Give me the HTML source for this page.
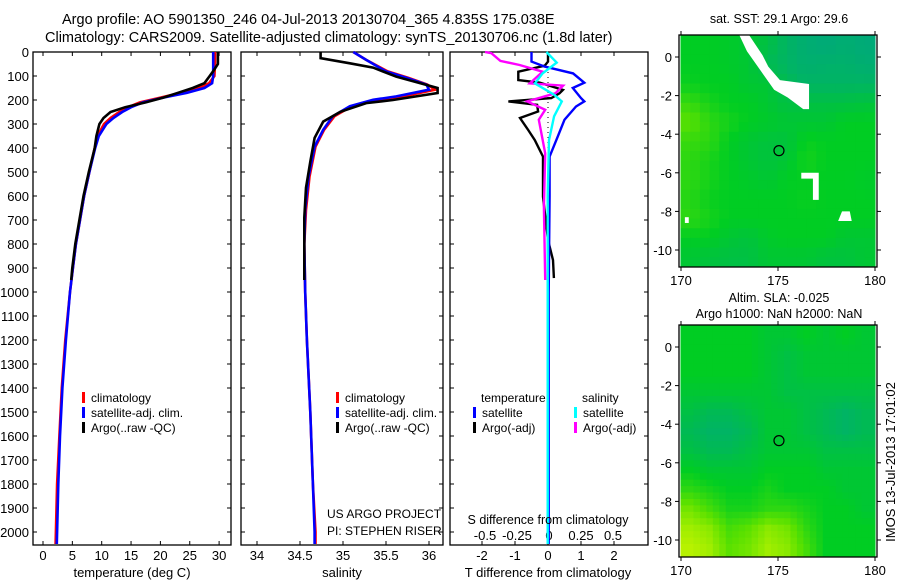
<!DOCTYPE html>
<html><head><meta charset="utf-8">
<style>
html,body{margin:0;padding:0;background:#fff;}
svg{display:block;font-family:"Liberation Sans",sans-serif;}
text{fill:#000;}
</style></head>
<body>
<svg id="fig" width="900" height="580" viewBox="0 0 900 580" xmlns="http://www.w3.org/2000/svg">
<text x="62" y="24" font-size="14.5">Argo profile: AO 5901350_246 04-Jul-2013 20130704_365 4.835S 175.038E</text>
<text x="45" y="42" font-size="14.5">Climatology: CARS2009. Satellite-adjusted climatology: synTS_20130706.nc (1.8d later)</text>
<g id="g"></g>
</svg>
<script>
// ---------- data ----------
const depthTicks = [0,100,200,300,400,500,600,700,800,900,1000,1100,1200,1300,1400,1500,1600,1700,1800,1900,2000];
const tempTicks = [0,5,10,15,20,25,30];
const salTicks = [34,34.5,35,35.5,36];
const salTickLabels = ["34","34.5","35","35.5","36"];
const tdiffTicks = [-2,-1,0,1,2];
const sdiffTicks = [-0.5,-0.25,0,0.25,0.5];
const sdiffTickLabels = ["-0.5","-0.25","0","0.25","0.5"];

const climTDepth = [0,50,100,130,150,170,190,210,230,250,275,300,350,400,500,600,700,800,900,1000,1200,1400,1600,1800,2000,2050];
const satTemp = [29.0,29.0,29.0,28.8,27.5,24.5,20.5,17,15,13.5,12.0,10.8,9.5,8.9,7.9,7.0,6.3,5.6,5.1,4.6,3.9,3.3,2.9,2.6,2.4,2.35];
const climTemp = [29.3,29.3,29.2,28.3,26.5,23.5,20,16.5,14.5,13,11.5,10.4,9.3,8.8,7.9,7.0,6.3,5.6,5.1,4.6,3.8,3.2,2.8,2.4,2.2,2.15];
const argoTDepth = [0,50,80,100,130,150,170,190,210,230,250,275,300,350,400,500,600,700,800,900,950];
const argoTemp = [29.8,29.8,29.0,28.4,27.5,25.5,23,20.5,17.5,14,11.5,10.3,9.6,9.1,8.8,7.8,6.9,6.2,5.5,5.0,4.8];

const climSDepth = [0,33,81,108,136,157,185,199,226,268,324,394,519,657,800,1000,1200,1500,1800,2000,2050];
const satSal = [35.12,35.27,35.5,35.74,35.97,36.0,35.62,35.35,35.08,34.88,34.77,34.67,34.6,34.56,34.55,34.56,34.58,34.62,34.65,34.67,34.67];
const climSal = [35.12,35.27,35.52,35.76,35.98,36.07,35.7,35.4,35.1,34.9,34.78,34.68,34.61,34.57,34.55,34.56,34.58,34.62,34.65,34.68,34.68];
const argoSDepth = [0,26,47,65,103,130,150,171,200,213,249,290,358,457,566,690,800,950];
const argoSal = [34.74,34.74,35.08,35.35,35.62,35.9,36.1,36.1,35.58,35.27,34.97,34.77,34.67,34.62,34.57,34.55,34.55,34.55];

const satTDiffDepth = [0,40,61,89,128,150,192,206,227,282,351,436,600,1000,1500,2050];
const satTDiff = [-0.5,-0.5,-0.1,0.76,1.1,0.75,1.0,1.1,0.85,0.5,0.3,0.05,0.05,0.02,0.02,0.02];
const argoTDiffDepth = [0,40,57,82,117,128,158,172,192,206,220,248,275,325,367,436,505,603,783,867,942];
const argoTDiff = [0,0,-0.1,-0.9,-0.9,-0.25,0.45,0.35,0.1,-1.2,-0.33,-0.3,-0.85,-0.6,-0.4,-0.15,-0.15,-0.15,0,0.15,0.18];
const satSDiffDepth = [0,44,89,131,178,206,268,367,600,1000,2050];
const satSDiff = [-0.02,0.06,-0.05,-0.11,0.04,0.1,0.04,0.0,-0.01,-0.01,-0.01];
const argoSDiffDepth = [0,5,37,54,82,131,140,172,206,241,282,422,644,950];
const argoSDiff = [-0.5,-0.45,-0.38,-0.23,-0.05,-0.15,0.11,0.05,-0.17,-0.03,-0.08,-0.03,-0.04,-0.03];

const lonTicks = [170,175,180];
const latTicks = [0,-2,-4,-6,-8,-10];
const sstGrid = [
[0.5,0.5,0.48,0.45,0.4,0.3,0.2,0.15,0.2,0.15],
[0.5,0.5,0.48,0.45,0.35,0.3,0.22,0.25,0.25,0.2],
[0.52,0.5,0.5,0.45,0.45,0.35,0.3,0.3,0.3,0.3],
[0.62,0.55,0.5,0.5,0.45,0.4,0.4,0.4,0.4,0.42],
[0.7,0.6,0.55,0.5,0.48,0.45,0.45,0.45,0.5,0.5],
[0.62,0.6,0.5,0.45,0.42,0.42,0.52,0.5,0.5,0.5],
[0.6,0.55,0.5,0.45,0.42,0.45,0.55,0.5,0.5,0.5],
[0.6,0.55,0.5,0.48,0.45,0.5,0.5,0.5,0.5,0.48],
[0.58,0.52,0.5,0.5,0.5,0.5,0.52,0.5,0.5,0.5],
[0.6,0.55,0.5,0.5,0.5,0.5,0.5,0.5,0.5,0.5],
[0.5,0.5,0.45,0.42,0.48,0.5,0.5,0.5,0.45,0.45],
[0.45,0.42,0.4,0.4,0.45,0.45,0.45,0.42,0.42,0.45]];
const slaGrid = [
[0.5,0.5,0.5,0.5,0.45,0.45,0.5,0.45,0.5,0.45],
[0.5,0.5,0.5,0.5,0.45,0.4,0.45,0.45,0.45,0.45],
[0.5,0.5,0.5,0.5,0.45,0.4,0.45,0.45,0.45,0.45],
[0.45,0.45,0.45,0.45,0.45,0.4,0.4,0.4,0.4,0.4],
[0.4,0.35,0.35,0.4,0.45,0.45,0.4,0.35,0.3,0.35],
[0.35,0.3,0.3,0.35,0.45,0.45,0.4,0.35,0.3,0.35],
[0.4,0.35,0.35,0.4,0.45,0.45,0.45,0.4,0.4,0.4],
[0.5,0.45,0.45,0.45,0.5,0.5,0.5,0.45,0.45,0.45],
[0.6,0.55,0.5,0.5,0.55,0.5,0.5,0.5,0.45,0.45],
[0.75,0.65,0.55,0.55,0.6,0.6,0.55,0.5,0.5,0.45],
[0.85,0.8,0.65,0.7,0.8,0.75,0.6,0.5,0.5,0.5],
[0.9,0.85,0.7,0.75,0.85,0.8,0.65,0.5,0.5,0.5]];
const gridLon0 = 170, gridLat0 = 1.1;
const argoLon = 175.05, argoLat = -4.85;

// ---------- helpers ----------
const NS = "http://www.w3.org/2000/svg";
const G = document.getElementById('g');
function mk(tag, attrs, parent){
  const e = document.createElementNS(NS, tag);
  for (const k in attrs) e.setAttribute(k, attrs[k]);
  (parent||G).appendChild(e);
  return e;
}
function txt(s, x, y, size, anchor, name){
  const t = mk('text', {x:x, y:y, 'font-size':size, 'text-anchor':anchor||'start'});
  t.textContent = s;
  
  
  return t;
}
const yTop = 52, pxPerM = 0.24, yBot = 545;
function yD(d){ return yTop + d*pxPerM; }

function panel(x0, x1, name){
  const r = mk('rect', {x:x0, y:yTop, width:x1-x0, height:yBot-yTop, fill:'none', stroke:'#000', 'stroke-width':1.3});
  
  
  for (const d of depthTicks){
    const t1 = mk('line', {x1:x0, x2:x0+4, y1:yD(d), y2:yD(d), stroke:'#000'});
    
    
    const t2 = mk('line', {x1:x1-4, x2:x1, y1:yD(d), y2:yD(d), stroke:'#000'});
    
    
  }
}
function xticks(xs, fx, labels, y, name){
  xs.forEach((v,i)=>{
    const X = fx(v);
    const a = mk('line', {x1:X, x2:X, y1:yBot-4, y2:yBot, stroke:'#000'});
    
    
    const b = mk('line', {x1:X, x2:X, y1:yTop, y2:yTop+4, stroke:'#000'});
    
    
    txt(labels[i], X, y, 13, 'middle', name+'-tick-label');
  });
}
function series(depths, vals, fx, color, name, w){
  const pts = depths.map((d,i)=> fx(vals[i]).toFixed(1)+','+yD(d).toFixed(1)).join(' ');
  const p = mk('polyline', {points:pts, fill:'none', stroke:color, 'stroke-width':w||2.6, 'stroke-linejoin':'miter'});
  
  
}
function legendEntry(x, y, color, label, name){
  const b = mk('rect', {x:x, y:y-10, width:3, height:11, fill:color});
  
  
  txt(label, x+9, y, 12, 'start', name);
}

depthTicks.forEach(d=> txt(String(d), 29, yD(d)+5, 13, 'end', 'depth-tick-label'));

// ---------- panel 1: temperature ----------
const fT = v => 43 + v*5.87;
panel(33, 231, 'temperature-panel');
xticks(tempTicks, fT, tempTicks.map(String), 560, 'temperature-axis');
series(climTDepth, climTemp, fT, '#f00', 'climatology-temperature-line');
series(climTDepth, satTemp, fT, '#00f', 'satellite-temperature-line');
series(argoTDepth, argoTemp, fT, '#000', 'argo-temperature-line');
txt('temperature (deg C)', 132, 577, 13, 'middle', 'temperature-axis-title');
legendEntry(82, 402, '#f00', 'climatology', 'legend-climatology');
legendEntry(82, 417, '#00f', 'satellite-adj. clim.', 'legend-satellite-adj');
legendEntry(82, 432, '#000', 'Argo(..raw -QC)', 'legend-argo');

// ---------- panel 2: salinity ----------
const fS = v => 257 + (v-34)*86;
panel(241, 443, 'salinity-panel');
xticks(salTicks, fS, salTickLabels, 560, 'salinity-axis');
series(climSDepth, climSal, fS, '#f00', 'climatology-salinity-line');
series(climSDepth, satSal, fS, '#00f', 'satellite-salinity-line');
series(argoSDepth, argoSal, fS, '#000', 'argo-salinity-line');
txt('salinity', 342, 577, 13, 'middle', 'salinity-axis-title');
legendEntry(336, 402, '#f00', 'climatology', 'legend-climatology-2');
legendEntry(336, 417, '#00f', 'satellite-adj. clim.', 'legend-satellite-adj-2');
legendEntry(336, 432, '#000', 'Argo(..raw -QC)', 'legend-argo-2');
txt('US ARGO PROJECT', 327, 518, 12, 'start', 'project-label');
txt('PI: STEPHEN RISER', 327, 535, 12, 'start', 'pi-label');

// ---------- panel 3: differences ----------
const fDT = v => 548 + v*33;
const fDS = v => 549 + v*128;
panel(450, 648, 'difference-panel');
xticks(tdiffTicks, fDT, tdiffTicks.map(String), 560, 't-diff-axis');
sdiffTicks.forEach((v,i)=> txt(sdiffTickLabels[i], fDS(v), 540, 13, 'middle', 's-diff-tick-label'));
const zl = mk('line', {x1:fDT(0), x2:fDT(0), y1:yTop, y2:yBot, stroke:'#000', 'stroke-dasharray':'1,4'});


series(argoTDiffDepth, argoTDiff, fDT, '#000', 'argo-t-diff-line', 2.4);
series(argoSDiffDepth, argoSDiff, fDS, '#f0f', 'argo-s-diff-line', 2.4);
series(satTDiffDepth, satTDiff, fDT, '#00f', 'satellite-t-diff-line', 2.4);
series(satSDiffDepth, satSDiff, fDS, '#0ff', 'satellite-s-diff-line', 2.4);
txt('S difference from climatology', 548, 524, 12.5, 'middle', 's-diff-axis-title');
txt('T difference from climatology', 548, 577, 13, 'middle', 't-diff-axis-title');
txt('temperature', 481, 402, 12, 'start', 'legend-temperature-heading');
txt('salinity', 582, 402, 12, 'start', 'legend-salinity-heading');
legendEntry(473, 417, '#00f', 'satellite', 'legend-t-satellite');
legendEntry(473, 432, '#000', 'Argo(-adj)', 'legend-t-argo');
legendEntry(574, 417, '#0ff', 'satellite', 'legend-s-satellite');
legendEntry(574, 432, '#f0f', 'Argo(-adj)', 'legend-s-argo');

// ---------- maps ----------
const stops = [[0,[0,160,140]],[0.3,[0,180,100]],[0.5,[0,205,35]],[0.7,[90,225,0]],[1,[230,250,0]]];
function cmap(v){
  for (let i=1;i<stops.length;i++){
    if (v<=stops[i][0]){
      const a=stops[i-1], b=stops[i], t=(v-a[0])/(b[0]-a[0]);
      const c=a[1].map((q,k)=>Math.round(q+(b[1][k]-q)*t));
      return 'rgb('+c.join(',')+')';
    }
  }
  return 'rgb(230,250,0)';
}
function sample(grid, r, c){
  const R = grid.length, C = grid[0].length;
  r = Math.max(0, Math.min(R-1, r)); c = Math.max(0, Math.min(C-1, c));
  const r0 = Math.floor(r), c0 = Math.floor(c), r1 = Math.min(R-1, r0+1), c1 = Math.min(C-1, c0+1);
  const fr = r-r0, fc = c-c0;
  return grid[r0][c0]*(1-fr)*(1-fc)+grid[r0][c1]*(1-fr)*fc+grid[r1][c0]*fr*(1-fc)+grid[r1][c1]*fr*fc;
}
function drawMap(top, grid, name, masks, sub){
  const mx0=679, mx1=877, mBot=top+232;
  const fLon = l => 681 + (l-170)*19.4;
  const fLat = l => (top+22) - l*19.3;
  const clip = mk('clipPath', {id:'clip-'+name});
  mk('rect', {x:mx0, y:top, width:mx1-mx0, height:mBot-top}, clip);
  const cg = mk('g', {'clip-path':'url(#clip-'+name+')'});
  
  
  const R = grid.length*sub, C = grid[0].length*sub;
  for (let r=0;r<R;r++) for (let c=0;c<C;c++){
    const v = sub===1 ? grid[r][c] : sample(grid, (r+0.5)/sub-0.5, (c+0.5)/sub-0.5);
    const x = fLon(gridLon0+c/sub), y = fLat(gridLat0-r/sub);
    const cell = mk('rect', {x:x-0.5, y:y-0.5, width:fLon(gridLon0+(c+1)/sub)-x+1, height:fLat(gridLat0-(r+1)/sub)-y+1, fill:cmap(v)}, cg);
    
    
  }
  (masks||[]).forEach(poly=>{
    const m = mk('polygon', {points:poly.map(p=>fLon(p[0])+','+fLat(p[1])).join(' '), fill:'#fff'}, cg);
    
    
  });
  const fr = mk('rect', {x:mx0, y:top, width:mx1-mx0, height:mBot-top, fill:'none', stroke:'#000', 'stroke-width':1.3});
  
  
  lonTicks.forEach(l=>{
    const a = mk('line', {x1:fLon(l), x2:fLon(l), y1:mBot, y2:mBot+4, stroke:'#000'});
    
    
    const b = mk('line', {x1:fLon(l), x2:fLon(l), y1:top-4, y2:top, stroke:'#000'});
    
    
    txt(String(l), fLon(l), mBot+18, 13, 'middle', name+'-lon-label');
  });
  latTicks.forEach(l=>{
    const a = mk('line', {x1:mx0-4, x2:mx0, y1:fLat(l), y2:fLat(l), stroke:'#000'});
    
    
    const b = mk('line', {x1:mx1, x2:mx1+4, y1:fLat(l), y2:fLat(l), stroke:'#000'});
    
    
    txt(String(l), 672, fLat(l)+5, 13, 'end', name+'-lat-label');
  });
  const c = mk('circle', {cx:fLon(argoLon), cy:fLat(argoLat), r:5, fill:'none', stroke:'#000', 'stroke-width':1.2});
  
  
}
drawMap(35, sstGrid, 'sst-map', [
  [[173,1.15],[173.5,1.15],[174.2,0.1],[174.5,-0.5],[175.1,-1.2],[176.6,-1.4],[176.6,-2.7],[176.3,-2.7],[175.5,-2.1],[174.8,-1.7],[174.1,-0.7],[173.4,0.3]],
  [[176.2,-6],[177.1,-6],[177.1,-7.4],[176.8,-7.4],[176.8,-6.3],[176.2,-6.3]],
  [[178.3,-8],[178.7,-8],[178.8,-8.5],[178.1,-8.5]],
  [[170.2,-8.3],[170.4,-8.3],[170.4,-8.6],[170.2,-8.6]]
], 2);
drawMap(325, slaGrid, 'sla-map', [], 3);
txt('sat. SST: 29.1 Argo: 29.6', 779, 23, 12.5, 'middle', 'sst-map-title');
txt('Altim. SLA: -0.025', 779, 302, 12.5, 'middle', 'sla-map-title-1');
txt('Argo h1000: NaN h2000: NaN', 779, 318, 12.5, 'middle', 'sla-map-title-2');
const side = txt('IMOS 13-Jul-2013 17:01:02', 0, 0, 13, 'middle', 'timestamp-label');
side.setAttribute('transform', 'translate(895,462) rotate(-90)');
</script>
</body></html>
